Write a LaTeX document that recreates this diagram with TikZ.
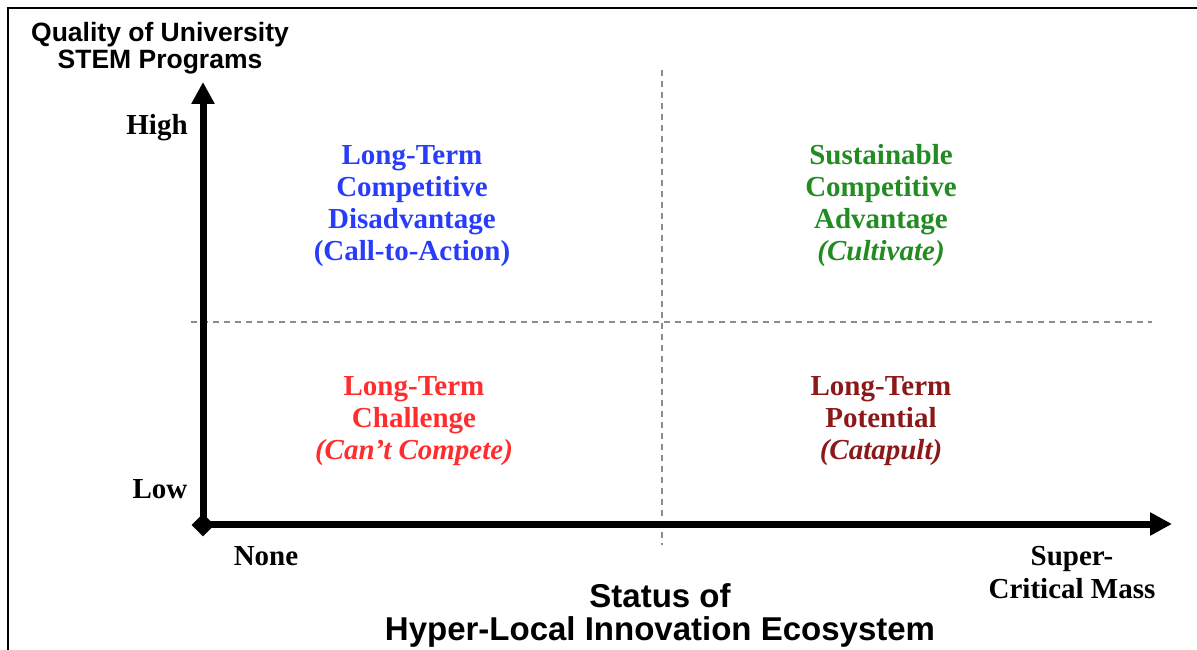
\documentclass[tikz,border=0pt]{standalone}
\usepackage{fontspec}
\setmainfont{Liberation Serif}
\setsansfont{Liberation Sans}
\usetikzlibrary{arrows.meta,shapes.geometric}
\definecolor{quadblue}{RGB}{40,60,250}
\definecolor{quadgreen}{RGB}{34,139,34}
\definecolor{quadred}{RGB}{255,45,45}
\definecolor{quaddark}{RGB}{140,25,25}
\definecolor{gridgray}{RGB}{140,140,140}

\begin{document}
\begin{tikzpicture}[x=1pt, y=-1pt,
    axis/.style={line width=7pt, {Triangle[length=22pt,width=22pt]}-{Triangle[length=22pt,width=22pt]}},
    grid/.style={gridgray, line width=2pt, dash pattern=on 6pt off 5pt},
    quad/.style={align=center, font=\fontsize{29}{32}\selectfont\bfseries},
    tick/.style={align=center, font=\fontsize{29}{33}\selectfont\bfseries},
    title/.style={align=center, font=\fontsize{#1}{#1}\selectfont\sffamily\bfseries}]
    \useasboundingbox (0,0) rectangle (1197,650);
    \draw[line width=2.5pt] (8,650) -- (8,8) -- (1197,8);

    \coordinate (midtop) at (662,70);
    \coordinate (midbot) at (662,545);
    \coordinate (midleft) at (191,322);
    \coordinate (midright) at (1152,322);
    \draw[grid] (midtop) -- (midbot);
    \draw[grid] (midleft) -- (midright);

    \coordinate (ytop) at (203,82);
    \coordinate (corner) at (203,524);
    \coordinate (xend) at (1172,524);
    \draw[axis] (ytop) -- (corner) -- (xend);
    \node[diamond, fill, minimum size=23pt, inner sep=0pt] (origin) at (203,525) {};

    \node[title=26.5] (ytitle) at (160,48) {Quality of University\\STEM Programs};
    \node[title=33] (xtitle) at (660,615) {Status of\\Hyper-Local Innovation Ecosystem};

    \node[tick] (high) at (157,128) {High};
    \node[tick] (low) at (160,489) {Low};
    \node[tick] (none) at (266,556) {None};
    \node[tick] (supercrit) at (1072,573) {Super-\\Critical Mass};

    \node[quad, quadblue] (disadv) at (412,206) {Long-Term\\Competitive\\Disadvantage\\(Call-to-Action)};
    \node[quad, quadgreen] (advantage) at (881,206) {Sustainable\\Competitive\\Advantage\\\textit{(Cultivate)}};
    \node[quad, quadred] (challenge) at (414,421) {Long-Term\\Challenge\\\textit{(Can’t Compete)}};
    \node[quad, quaddark] (potential) at (881,421) {Long-Term\\Potential\\\textit{(Catapult)}};
\end{tikzpicture}
\end{document}
